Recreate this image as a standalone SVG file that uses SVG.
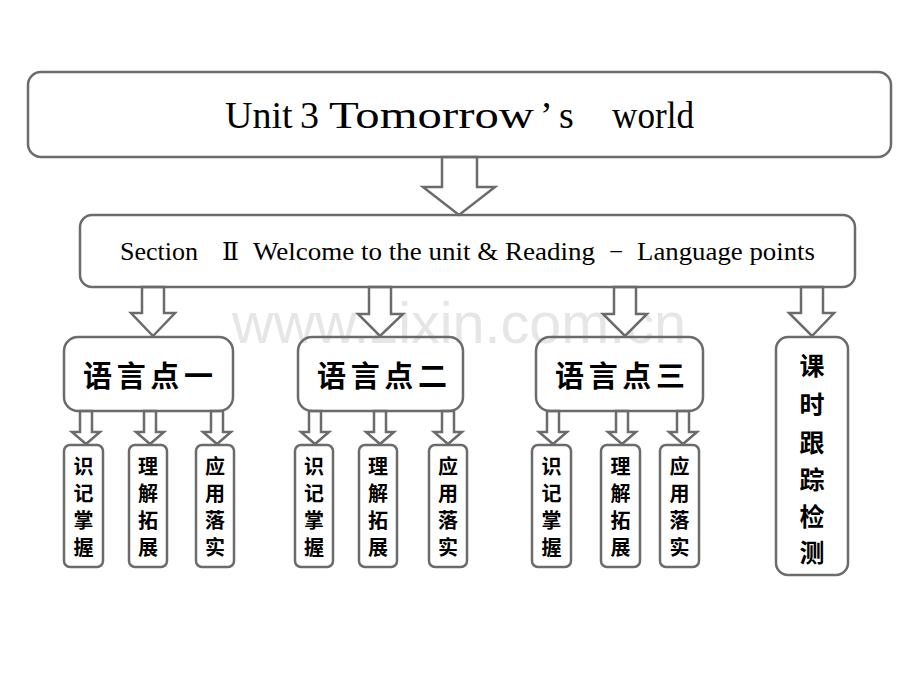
<svg xmlns="http://www.w3.org/2000/svg" width="920" height="690" viewBox="0 0 920 690">
<style>
.box{fill:none;stroke:#6b6b6b;stroke-width:2.5}
.arr{fill:#fff;stroke:#6b6b6b;stroke-width:2.5;stroke-linejoin:miter}
.en{font-family:"Liberation Serif","DejaVu Serif",serif;fill:#000}
.cn{font-family:"Noto Sans CJK SC","Noto Sans CJK TC",sans-serif;font-weight:bold;fill:#000;text-anchor:middle}
.wm{font-family:"Liberation Sans",Arial,sans-serif;fill:#e6e6e6}
</style>
<rect width="920" height="690" fill="#fff"/>
<text class="wm" x="232" y="343" font-size="57" textLength="454" lengthAdjust="spacingAndGlyphs">www.zixin.com.cn</text>

<g id="connectors">
<polygon class="arr" points="442,157 477,157 477,187 495,187 459,215 423,187 442,187"/>
<polygon class="arr" points="142,287 164,287 164,313 175,313 153,336 131,313 142,313"/>
<polygon class="arr" points="369,287 391,287 391,314 403,314 380,336 358,314 369,314"/>
<polygon class="arr" points="614,287 636,287 636,314 647,314 625,336 603,314 614,314"/>
<polygon class="arr" points="801,287 823,287 823,313 834,313 812,336 789,313 801,313"/>
<polygon class="arr" points="80,411 92,411 92,432 100,432 86,444 72,432 80,432"/>
<polygon class="arr" points="144,411 156,411 156,432 164,432 150,444 136,432 144,432"/>
<polygon class="arr" points="211,411 223,411 223,432 231,432 217,444 203,432 211,432"/>
<polygon class="arr" points="309,411 321,411 321,432 329,432 315,444 301,432 309,432"/>
<polygon class="arr" points="374,411 386,411 386,432 394,432 380,444 366,432 374,432"/>
<polygon class="arr" points="442,411 454,411 454,432 462,432 448,444 434,432 442,432"/>
<polygon class="arr" points="547,411 559,411 559,432 567,432 553,444 539,432 547,432"/>
<polygon class="arr" points="616,411 628,411 628,432 636,432 622,444 608,432 616,432"/>
<polygon class="arr" points="677,411 689,411 689,432 697,432 683,444 669,432 677,432"/>
</g>

<g id="title">
<rect class="box" x="28" y="72" width="863" height="85" rx="13"/>
<text class="en" y="128" font-size="38"><tspan x="225">Unit</tspan><tspan x="300">3</tspan><tspan x="329" textLength="205" lengthAdjust="spacingAndGlyphs">Tomorrow</tspan><tspan x="540">’</tspan><tspan x="559">s</tspan><tspan x="612" textLength="82" lengthAdjust="spacingAndGlyphs">world</tspan></text>
</g>

<g id="section">
<rect class="box" x="80" y="215" width="775" height="72" rx="12"/>
<text class="en" y="260" font-size="25"><tspan x="120" textLength="78" lengthAdjust="spacingAndGlyphs">Section</tspan><tspan x="222">Ⅱ</tspan><tspan x="253" textLength="342" lengthAdjust="spacingAndGlyphs">Welcome to the unit &amp; Reading</tspan><tspan x="609">−</tspan><tspan x="637" textLength="178" lengthAdjust="spacingAndGlyphs">Language points</tspan></text>
</g>

<g id="point1">
<rect class="box" x="64" y="337" width="169" height="74" rx="14"/>
<text class="cn" x="148" y="387" font-size="29" textLength="130">语言点一</text>
</g>
<g id="point2">
<rect class="box" x="298" y="337" width="165" height="74" rx="14"/>
<text class="cn" x="382" y="387" font-size="29" textLength="130">语言点二</text>
</g>
<g id="point3">
<rect class="box" x="536" y="337" width="167" height="74" rx="14"/>
<text class="cn" x="620" y="387" font-size="29" textLength="130">语言点三</text>
</g>
<g id="practice">
<rect class="box" x="776" y="337" width="72" height="238" rx="12"/>
<text class="cn" x="812" font-size="25"><tspan x="812" y="375">课</tspan><tspan x="812" y="414">时</tspan><tspan x="812" y="452">跟</tspan><tspan x="812" y="489">踪</tspan><tspan x="812" y="526">检</tspan><tspan x="812" y="562">测</tspan></text>
</g>

<g id="p1a">
<rect class="box" x="64" y="445" width="39" height="122" rx="6"/>
<text class="cn" font-size="20"><tspan x="83.5" y="474">识</tspan><tspan x="83.5" y="501">记</tspan><tspan x="83.5" y="528">掌</tspan><tspan x="83.5" y="555">握</tspan></text>
</g>
<g id="p1b">
<rect class="box" x="129" y="445" width="38" height="122" rx="6"/>
<text class="cn" font-size="20"><tspan x="148" y="474">理</tspan><tspan x="148" y="501">解</tspan><tspan x="148" y="528">拓</tspan><tspan x="148" y="555">展</tspan></text>
</g>
<g id="p1c">
<rect class="box" x="196" y="445" width="38" height="122" rx="6"/>
<text class="cn" font-size="20"><tspan x="215" y="474">应</tspan><tspan x="215" y="501">用</tspan><tspan x="215" y="528">落</tspan><tspan x="215" y="555">实</tspan></text>
</g>

<g id="p2a">
<rect class="box" x="295" y="445" width="38" height="122" rx="6"/>
<text class="cn" font-size="20"><tspan x="314" y="474">识</tspan><tspan x="314" y="501">记</tspan><tspan x="314" y="528">掌</tspan><tspan x="314" y="555">握</tspan></text>
</g>
<g id="p2b">
<rect class="box" x="359" y="445" width="38" height="122" rx="6"/>
<text class="cn" font-size="20"><tspan x="378" y="474">理</tspan><tspan x="378" y="501">解</tspan><tspan x="378" y="528">拓</tspan><tspan x="378" y="555">展</tspan></text>
</g>
<g id="p2c">
<rect class="box" x="429" y="445" width="38" height="122" rx="6"/>
<text class="cn" font-size="20"><tspan x="448" y="474">应</tspan><tspan x="448" y="501">用</tspan><tspan x="448" y="528">落</tspan><tspan x="448" y="555">实</tspan></text>
</g>

<g id="p3a">
<rect class="box" x="532" y="445" width="39" height="122" rx="6"/>
<text class="cn" font-size="20"><tspan x="551.5" y="474">识</tspan><tspan x="551.5" y="501">记</tspan><tspan x="551.5" y="528">掌</tspan><tspan x="551.5" y="555">握</tspan></text>
</g>
<g id="p3b">
<rect class="box" x="601" y="445" width="39" height="122" rx="6"/>
<text class="cn" font-size="20"><tspan x="620.5" y="474">理</tspan><tspan x="620.5" y="501">解</tspan><tspan x="620.5" y="528">拓</tspan><tspan x="620.5" y="555">展</tspan></text>
</g>
<g id="p3c">
<rect class="box" x="660" y="445" width="39" height="122" rx="6"/>
<text class="cn" font-size="20"><tspan x="679.5" y="474">应</tspan><tspan x="679.5" y="501">用</tspan><tspan x="679.5" y="528">落</tspan><tspan x="679.5" y="555">实</tspan></text>
</g>
</svg>
